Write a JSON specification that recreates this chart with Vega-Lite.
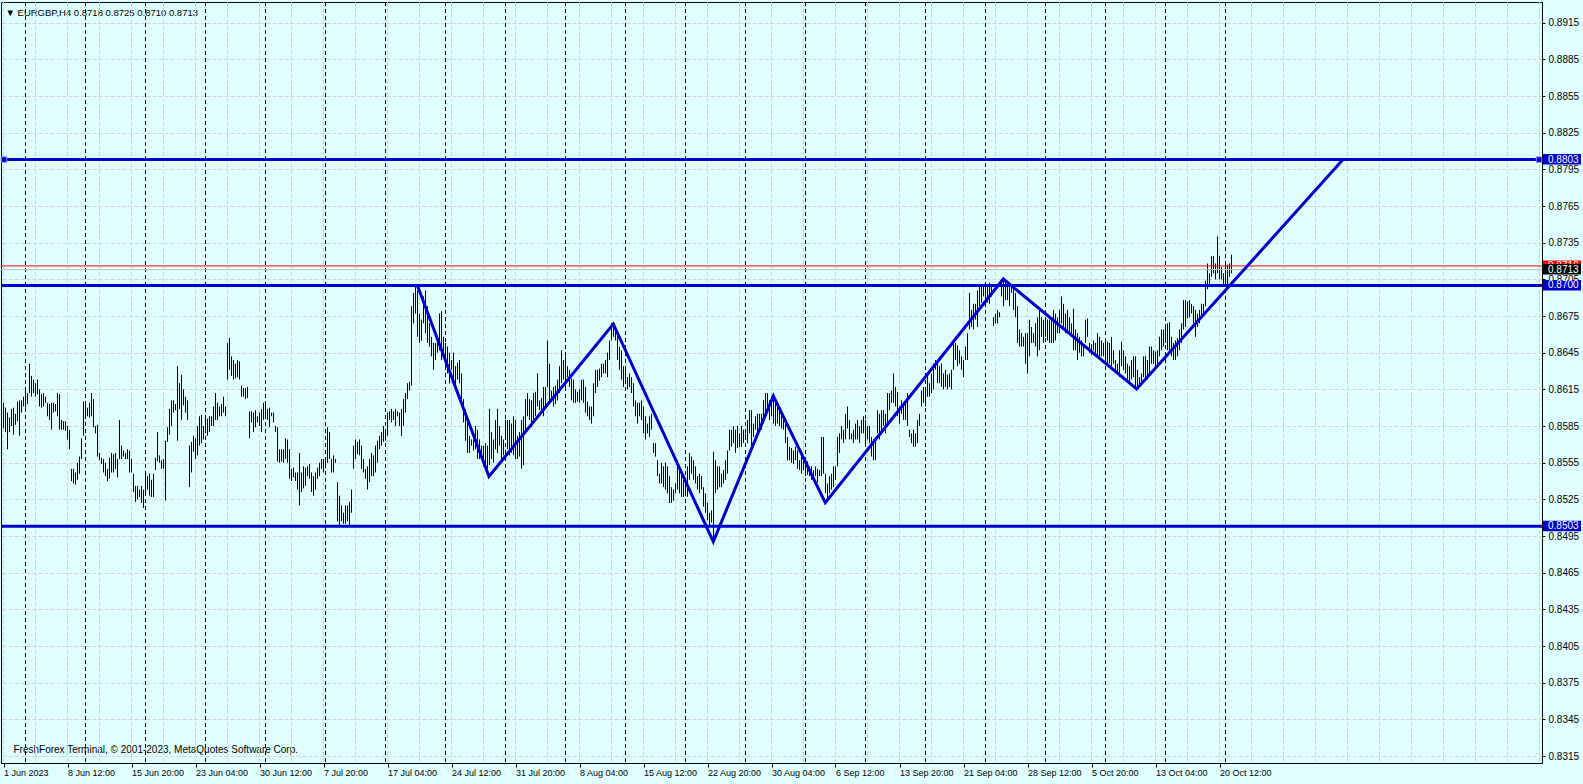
{
  "$schema": "https://vega.github.io/schema/vega-lite/v6.json",
  "autosize": {"type": "none"},
  "padding": {"left": 1, "top": 2, "right": 41, "bottom": 21},
  "width": 1541,
  "height": 761,
  "background": "#E0FFFF",
  "config": {
    "view": {"stroke": "black", "strokeWidth": 1},
    "axis": {"labelFont": "Liberation Sans", "titleFont": "Liberation Sans", "labelOverlap": false}
  },
  "datasets": {
    "vgrid": [
      {"i": 1}, {"i": 17}, {"i": 33}, {"i": 49}, {"i": 65}, {"i": 81}, {"i": 97}, {"i": 113}, {"i": 129}, {"i": 145},
      {"i": 161}, {"i": 177}, {"i": 193}, {"i": 209}, {"i": 225}, {"i": 241}, {"i": 257}, {"i": 273}, {"i": 289}, {"i": 305},
      {"i": 321}, {"i": 337}, {"i": 353}, {"i": 369}, {"i": 385}, {"i": 401}, {"i": 417}, {"i": 433}, {"i": 449}, {"i": 465},
      {"i": 481}, {"i": 497}, {"i": 513}, {"i": 529}, {"i": 545}, {"i": 561}, {"i": 577}, {"i": 593}, {"i": 609}, {"i": 625},
      {"i": 641}, {"i": 657}, {"i": 673}, {"i": 689}, {"i": 705}, {"i": 721}, {"i": 737}, {"i": 753}, {"i": 769}
    ],
    "seps": [
      {"i": 12}, {"i": 42}, {"i": 72}, {"i": 102}, {"i": 132}, {"i": 162}, {"i": 192}, {"i": 222}, {"i": 252}, {"i": 282},
      {"i": 312}, {"i": 342}, {"i": 372}, {"i": 402}, {"i": 432}, {"i": 462}, {"i": 492}, {"i": 522}, {"i": 552}, {"i": 582}, {"i": 612}
    ],
    "zig": [
      {"i": 207.95, "p": 0.8700}, {"i": 243.75, "p": 0.85437}, {"i": 305.9, "p": 0.86685},
      {"i": 355.9, "p": 0.84904}, {"i": 385.9, "p": 0.86096}, {"i": 411.9, "p": 0.85223},
      {"i": 500.9, "p": 0.87053}, {"i": 567.6, "p": 0.86153}, {"i": 670.75, "p": 0.8803}
    ],
    "levels": [{"p": 0.8803}, {"p": 0.8700}, {"p": 0.8503}],
    "ends": [{"i": 1.25, "p": 0.8803}, {"i": 768.75, "p": 0.8803}],
    "boxes": [
      {"p": 0.8803, "k": "level"}, {"p": 0.8700, "k": "level"}, {"p": 0.8503, "k": "level"}, {"p": 0.8716, "k": "alert"}
    ],
    "bid": [{"p": 0.8713, "k": "bid"}],
    "bars": [
      {"i":0,"h":0.8597,"l":0.8584},{"i":1,"h":0.8604,"l":0.8583},{"i":2,"h":0.8600,"l":0.8580},{"i":3,"h":0.8596,"l":0.8566},
      {"i":4,"h":0.8592,"l":0.8580},{"i":5,"h":0.8599,"l":0.8585},{"i":6,"h":0.8600,"l":0.8578},{"i":7,"h":0.8595,"l":0.8586},
      {"i":8,"h":0.8605,"l":0.8589},{"i":9,"h":0.8606,"l":0.8577},{"i":10,"h":0.8606,"l":0.8596},{"i":11,"h":0.8609,"l":0.8601},
      {"i":12,"h":0.8617,"l":0.8600},{"i":13,"h":0.8612,"l":0.8603},{"i":14,"h":0.8636,"l":0.8612},{"i":15,"h":0.8626,"l":0.8609},
      {"i":16,"h":0.8623,"l":0.8612},{"i":17,"h":0.8620,"l":0.8609},{"i":18,"h":0.8623,"l":0.8611},{"i":19,"h":0.8615,"l":0.8601},
      {"i":20,"h":0.8611,"l":0.8600},{"i":21,"h":0.8612,"l":0.8601},{"i":22,"h":0.8609,"l":0.8604},{"i":23,"h":0.8604,"l":0.8593},
      {"i":24,"h":0.8603,"l":0.8590},{"i":25,"h":0.8604,"l":0.8582},{"i":26,"h":0.8604,"l":0.8596},{"i":27,"h":0.8603,"l":0.8597},
      {"i":28,"h":0.8612,"l":0.8593},{"i":29,"h":0.8611,"l":0.8582},{"i":30,"h":0.8590,"l":0.8582},{"i":31,"h":0.8589,"l":0.8582},
      {"i":32,"h":0.8589,"l":0.8581},{"i":33,"h":0.8585,"l":0.8574},{"i":34,"h":0.8582,"l":0.8566},{"i":35,"h":0.8550,"l":0.8540},
      {"i":36,"h":0.8550,"l":0.8538},{"i":37,"h":0.8547,"l":0.8537},{"i":38,"h":0.8555,"l":0.8541},{"i":39,"h":0.8560,"l":0.8546},
      {"i":40,"h":0.8575,"l":0.8558},{"i":41,"h":0.8605,"l":0.8577},{"i":42,"h":0.8603,"l":0.8593},{"i":43,"h":0.8600,"l":0.8593},
      {"i":44,"h":0.8604,"l":0.8592},{"i":45,"h":0.8612,"l":0.8593},{"i":46,"h":0.8607,"l":0.8584},{"i":47,"h":0.8585,"l":0.8579},
      {"i":48,"h":0.8586,"l":0.8560},{"i":49,"h":0.8563,"l":0.8557},{"i":50,"h":0.8559,"l":0.8554},{"i":51,"h":0.8558,"l":0.8547},
      {"i":52,"h":0.8555,"l":0.8544},{"i":53,"h":0.8550,"l":0.8540},{"i":54,"h":0.8559,"l":0.8542},{"i":55,"h":0.8563,"l":0.8547},
      {"i":56,"h":0.8562,"l":0.8547},{"i":57,"h":0.8563,"l":0.8550},{"i":58,"h":0.8558,"l":0.8543},{"i":59,"h":0.8590,"l":0.8558},
      {"i":60,"h":0.8569,"l":0.8558},{"i":61,"h":0.8565,"l":0.8560},{"i":62,"h":0.8563,"l":0.8558},{"i":63,"h":0.8566,"l":0.8558},
      {"i":64,"h":0.8565,"l":0.8547},{"i":65,"h":0.8558,"l":0.8547},{"i":66,"h":0.8546,"l":0.8531},{"i":67,"h":0.8536,"l":0.8523},
      {"i":68,"h":0.8536,"l":0.8525},{"i":69,"h":0.8533,"l":0.8527},{"i":70,"h":0.8536,"l":0.8522},{"i":71,"h":0.8533,"l":0.8518},
      {"i":72,"h":0.8547,"l":0.8531},{"i":73,"h":0.8544,"l":0.8533},{"i":74,"h":0.8546,"l":0.8528},{"i":75,"h":0.8541,"l":0.8527},
      {"i":76,"h":0.8546,"l":0.8527},{"i":77,"h":0.8559,"l":0.8549},{"i":78,"h":0.8580,"l":0.8556},{"i":79,"h":0.8561,"l":0.8555},
      {"i":80,"h":0.8557,"l":0.8550},{"i":81,"h":0.8558,"l":0.8550},{"i":82,"h":0.8573,"l":0.8524},{"i":83,"h":0.8584,"l":0.8572},
      {"i":84,"h":0.8599,"l":0.8578},{"i":85,"h":0.8606,"l":0.8585},{"i":86,"h":0.8606,"l":0.8596},{"i":87,"h":0.8603,"l":0.8598},
      {"i":88,"h":0.8634,"l":0.8573},{"i":89,"h":0.8620,"l":0.8599},{"i":90,"h":0.8627,"l":0.8590},{"i":91,"h":0.8615,"l":0.8602},
      {"i":92,"h":0.8609,"l":0.8596},{"i":93,"h":0.8606,"l":0.8590},{"i":94,"h":0.8569,"l":0.8535},{"i":95,"h":0.8572,"l":0.8547},
      {"i":96,"h":0.8577,"l":0.8564},{"i":97,"h":0.8575,"l":0.8558},{"i":98,"h":0.8585,"l":0.8561},{"i":99,"h":0.8593,"l":0.8569},
      {"i":100,"h":0.8594,"l":0.8571},{"i":101,"h":0.8585,"l":0.8574},{"i":102,"h":0.8593,"l":0.8580},{"i":103,"h":0.8591,"l":0.8577},
      {"i":104,"h":0.8593,"l":0.8580},{"i":105,"h":0.8593,"l":0.8585},{"i":106,"h":0.8601,"l":0.8585},{"i":107,"h":0.8612,"l":0.8590},
      {"i":108,"h":0.8604,"l":0.8590},{"i":109,"h":0.8601,"l":0.8593},{"i":110,"h":0.8603,"l":0.8593},{"i":111,"h":0.8609,"l":0.8596},
      {"i":112,"h":0.8601,"l":0.8593},{"i":113,"h":0.8653,"l":0.8623},{"i":114,"h":0.8657,"l":0.8631},{"i":115,"h":0.8642,"l":0.8626},
      {"i":116,"h":0.8639,"l":0.8623},{"i":117,"h":0.8636,"l":0.8624},{"i":118,"h":0.8639,"l":0.8625},{"i":119,"h":0.8638,"l":0.8623},
      {"i":120,"h":0.8618,"l":0.8609},{"i":121,"h":0.8616,"l":0.8609},{"i":122,"h":0.8616,"l":0.8607},{"i":123,"h":0.8617,"l":0.8608},
      {"i":124,"h":0.8597,"l":0.8575},{"i":125,"h":0.8597,"l":0.8588},{"i":126,"h":0.8596,"l":0.8580},{"i":127,"h":0.8598,"l":0.8584},
      {"i":128,"h":0.8593,"l":0.8588},{"i":129,"h":0.8596,"l":0.8585},{"i":130,"h":0.8599,"l":0.8580},{"i":131,"h":0.8604,"l":0.8590},
      {"i":132,"h":0.8603,"l":0.8593},{"i":133,"h":0.8599,"l":0.8590},{"i":134,"h":0.8600,"l":0.8584},{"i":135,"h":0.8596,"l":0.8593},
      {"i":136,"h":0.8596,"l":0.8588},{"i":137,"h":0.8585,"l":0.8580},{"i":138,"h":0.8584,"l":0.8556},{"i":139,"h":0.8566,"l":0.8555},
      {"i":140,"h":0.8566,"l":0.8556},{"i":141,"h":0.8566,"l":0.8555},{"i":142,"h":0.8575,"l":0.8558},{"i":143,"h":0.8574,"l":0.8555},
      {"i":144,"h":0.8566,"l":0.8542},{"i":145,"h":0.8550,"l":0.8540},{"i":146,"h":0.8551,"l":0.8543},{"i":147,"h":0.8547,"l":0.8540},
      {"i":148,"h":0.8547,"l":0.8533},{"i":149,"h":0.8563,"l":0.8520},{"i":150,"h":0.8547,"l":0.8531},{"i":151,"h":0.8552,"l":0.8534},
      {"i":152,"h":0.8551,"l":0.8536},{"i":153,"h":0.8552,"l":0.8544},{"i":154,"h":0.8554,"l":0.8542},{"i":155,"h":0.8547,"l":0.8531},
      {"i":156,"h":0.8544,"l":0.8528},{"i":157,"h":0.8547,"l":0.8533},{"i":158,"h":0.8551,"l":0.8542},{"i":159,"h":0.8555,"l":0.8544},
      {"i":160,"h":0.8558,"l":0.8550},{"i":161,"h":0.8558,"l":0.8547},{"i":162,"h":0.8558,"l":0.8552},{"i":163,"h":0.8584,"l":0.8555},
      {"i":164,"h":0.8580,"l":0.8558},{"i":165,"h":0.8558,"l":0.8547},{"i":166,"h":0.8561,"l":0.8547},{"i":167,"h":0.8558,"l":0.8555},
      {"i":168,"h":0.8539,"l":0.8507},{"i":169,"h":0.8528,"l":0.8504},{"i":170,"h":0.8520,"l":0.8507},{"i":171,"h":0.8514,"l":0.8505},
      {"i":172,"h":0.8520,"l":0.8505},{"i":173,"h":0.8520,"l":0.8507},{"i":174,"h":0.8523,"l":0.8504},{"i":175,"h":0.8533,"l":0.8514},
      {"i":176,"h":0.8569,"l":0.8550},{"i":177,"h":0.8574,"l":0.8558},{"i":178,"h":0.8572,"l":0.8562},{"i":179,"h":0.8574,"l":0.8561},
      {"i":180,"h":0.8569,"l":0.8550},{"i":181,"h":0.8558,"l":0.8547},{"i":182,"h":0.8550,"l":0.8542},{"i":183,"h":0.8552,"l":0.8533},
      {"i":184,"h":0.8558,"l":0.8539},{"i":185,"h":0.8563,"l":0.8544},{"i":186,"h":0.8561,"l":0.8544},{"i":187,"h":0.8569,"l":0.8547},
      {"i":188,"h":0.8573,"l":0.8555},{"i":189,"h":0.8577,"l":0.8566},{"i":190,"h":0.8580,"l":0.8569},{"i":191,"h":0.8585,"l":0.8572},
      {"i":192,"h":0.8580,"l":0.8573},{"i":193,"h":0.8596,"l":0.8577},{"i":194,"h":0.8597,"l":0.8590},{"i":195,"h":0.8599,"l":0.8588},
      {"i":196,"h":0.8597,"l":0.8590},{"i":197,"h":0.8599,"l":0.8585},{"i":198,"h":0.8597,"l":0.8593},{"i":199,"h":0.8596,"l":0.8585},
      {"i":200,"h":0.8599,"l":0.8577},{"i":201,"h":0.8607,"l":0.8585},{"i":202,"h":0.8612,"l":0.8596},{"i":203,"h":0.8620,"l":0.8607},
      {"i":204,"h":0.8621,"l":0.8614},{"i":205,"h":0.8683,"l":0.8618},{"i":206,"h":0.8694,"l":0.8669},{"i":207,"h":0.8699,"l":0.8677},
      {"i":208,"h":0.8696,"l":0.8658},{"i":209,"h":0.8677,"l":0.8653},{"i":210,"h":0.8672,"l":0.8655},{"i":211,"h":0.8691,"l":0.8669},
      {"i":212,"h":0.8696,"l":0.8661},{"i":213,"h":0.8683,"l":0.8653},{"i":214,"h":0.8669,"l":0.8650},{"i":215,"h":0.8658,"l":0.8642},
      {"i":216,"h":0.8653,"l":0.8631},{"i":217,"h":0.8653,"l":0.8639},{"i":218,"h":0.8656,"l":0.8645},{"i":219,"h":0.8677,"l":0.8647},
      {"i":220,"h":0.8679,"l":0.8639},{"i":221,"h":0.8658,"l":0.8642},{"i":222,"h":0.8653,"l":0.8634},{"i":223,"h":0.8650,"l":0.8628},
      {"i":224,"h":0.8645,"l":0.8620},{"i":225,"h":0.8639,"l":0.8631},{"i":226,"h":0.8645,"l":0.8618},{"i":227,"h":0.8634,"l":0.8618},
      {"i":228,"h":0.8637,"l":0.8623},{"i":229,"h":0.8639,"l":0.8620},{"i":230,"h":0.8628,"l":0.8607},{"i":231,"h":0.8607,"l":0.8588},
      {"i":232,"h":0.8599,"l":0.8573},{"i":233,"h":0.8590,"l":0.8563},{"i":234,"h":0.8577,"l":0.8563},{"i":235,"h":0.8574,"l":0.8569},
      {"i":236,"h":0.8574,"l":0.8565},{"i":237,"h":0.8585,"l":0.8566},{"i":238,"h":0.8582,"l":0.8558},{"i":239,"h":0.8574,"l":0.8558},
      {"i":240,"h":0.8569,"l":0.8558},{"i":241,"h":0.8569,"l":0.8552},{"i":242,"h":0.8571,"l":0.8552},{"i":243,"h":0.8569,"l":0.8550},
      {"i":244,"h":0.8599,"l":0.8553},{"i":245,"h":0.8580,"l":0.8558},{"i":246,"h":0.8574,"l":0.8555},{"i":247,"h":0.8590,"l":0.8566},
      {"i":248,"h":0.8599,"l":0.8563},{"i":249,"h":0.8585,"l":0.8569},{"i":250,"h":0.8577,"l":0.8558},{"i":251,"h":0.8574,"l":0.8561},
      {"i":252,"h":0.8590,"l":0.8575},{"i":253,"h":0.8590,"l":0.8566},{"i":254,"h":0.8590,"l":0.8561},{"i":255,"h":0.8587,"l":0.8563},
      {"i":256,"h":0.8593,"l":0.8561},{"i":257,"h":0.8590,"l":0.8558},{"i":258,"h":0.8577,"l":0.8558},{"i":259,"h":0.8580,"l":0.8560},
      {"i":260,"h":0.8590,"l":0.8550},{"i":261,"h":0.8593,"l":0.8553},{"i":262,"h":0.8607,"l":0.8582},{"i":263,"h":0.8612,"l":0.8593},
      {"i":264,"h":0.8607,"l":0.8590},{"i":265,"h":0.8606,"l":0.8584},{"i":266,"h":0.8612,"l":0.8587},{"i":267,"h":0.8613,"l":0.8593},
      {"i":268,"h":0.8628,"l":0.8601},{"i":269,"h":0.8606,"l":0.8598},{"i":270,"h":0.8608,"l":0.8595},{"i":271,"h":0.8617,"l":0.8593},
      {"i":272,"h":0.8617,"l":0.8601},{"i":273,"h":0.8655,"l":0.8617},{"i":274,"h":0.8636,"l":0.8606},{"i":275,"h":0.8614,"l":0.8606},
      {"i":276,"h":0.8617,"l":0.8601},{"i":277,"h":0.8618,"l":0.8603},{"i":278,"h":0.8623,"l":0.8606},{"i":279,"h":0.8634,"l":0.8612},
      {"i":280,"h":0.8647,"l":0.8620},{"i":281,"h":0.8639,"l":0.8623},{"i":282,"h":0.8642,"l":0.8617},{"i":283,"h":0.8634,"l":0.8625},
      {"i":284,"h":0.8631,"l":0.8617},{"i":285,"h":0.8624,"l":0.8606},{"i":286,"h":0.8623,"l":0.8604},{"i":287,"h":0.8615,"l":0.8604},
      {"i":288,"h":0.8613,"l":0.8605},{"i":289,"h":0.8615,"l":0.8604},{"i":290,"h":0.8623,"l":0.8606},{"i":291,"h":0.8623,"l":0.8604},
      {"i":292,"h":0.8617,"l":0.8596},{"i":293,"h":0.8605,"l":0.8593},{"i":294,"h":0.8601,"l":0.8590},{"i":295,"h":0.8601,"l":0.8587},
      {"i":296,"h":0.8620,"l":0.8593},{"i":297,"h":0.8631,"l":0.8612},{"i":298,"h":0.8631,"l":0.8617},{"i":299,"h":0.8632,"l":0.8622},
      {"i":300,"h":0.8636,"l":0.8625},{"i":301,"h":0.8636,"l":0.8628},{"i":302,"h":0.8639,"l":0.8628},{"i":303,"h":0.8645,"l":0.8625},
      {"i":304,"h":0.8655,"l":0.8639},{"i":305,"h":0.8669,"l":0.8655},{"i":306,"h":0.8666,"l":0.8658},{"i":307,"h":0.8666,"l":0.8655},
      {"i":308,"h":0.8661,"l":0.8639},{"i":309,"h":0.8650,"l":0.8631},{"i":310,"h":0.8647,"l":0.8623},{"i":311,"h":0.8634,"l":0.8617},
      {"i":312,"h":0.8631,"l":0.8623},{"i":313,"h":0.8625,"l":0.8615},{"i":314,"h":0.8628,"l":0.8617},{"i":315,"h":0.8625,"l":0.8612},
      {"i":316,"h":0.8620,"l":0.8601},{"i":317,"h":0.8606,"l":0.8593},{"i":318,"h":0.8604,"l":0.8587},{"i":319,"h":0.8604,"l":0.8593},
      {"i":320,"h":0.8606,"l":0.8590},{"i":321,"h":0.8601,"l":0.8579},{"i":322,"h":0.8593,"l":0.8574},{"i":323,"h":0.8587,"l":0.8579},
      {"i":324,"h":0.8593,"l":0.8576},{"i":325,"h":0.8595,"l":0.8582},{"i":326,"h":0.8571,"l":0.8563},{"i":327,"h":0.8571,"l":0.8560},
      {"i":328,"h":0.8557,"l":0.8544},{"i":329,"h":0.8546,"l":0.8538},{"i":330,"h":0.8555,"l":0.8538},{"i":331,"h":0.8552,"l":0.8535},
      {"i":332,"h":0.8555,"l":0.8533},{"i":333,"h":0.8552,"l":0.8530},{"i":334,"h":0.8544,"l":0.8522},{"i":335,"h":0.8535,"l":0.8522},
      {"i":336,"h":0.8533,"l":0.8524},{"i":337,"h":0.8538,"l":0.8530},{"i":338,"h":0.8557,"l":0.8533},{"i":339,"h":0.8552,"l":0.8530},
      {"i":340,"h":0.8546,"l":0.8527},{"i":341,"h":0.8541,"l":0.8527},{"i":342,"h":0.8541,"l":0.8530},{"i":343,"h":0.8552,"l":0.8527},
      {"i":344,"h":0.8563,"l":0.8541},{"i":345,"h":0.8560,"l":0.8546},{"i":346,"h":0.8557,"l":0.8541},{"i":347,"h":0.8552,"l":0.8538},
      {"i":348,"h":0.8544,"l":0.8533},{"i":349,"h":0.8546,"l":0.8530},{"i":350,"h":0.8544,"l":0.8533},{"i":351,"h":0.8535,"l":0.8519},
      {"i":352,"h":0.8530,"l":0.8514},{"i":353,"h":0.8522,"l":0.8508},{"i":354,"h":0.8514,"l":0.8503},{"i":355,"h":0.8516,"l":0.8506},
      {"i":356,"h":0.8564,"l":0.8490},{"i":357,"h":0.8557,"l":0.8530},{"i":358,"h":0.8552,"l":0.8533},{"i":359,"h":0.8552,"l":0.8535},
      {"i":360,"h":0.8546,"l":0.8535},{"i":361,"h":0.8549,"l":0.8538},{"i":362,"h":0.8557,"l":0.8541},{"i":363,"h":0.8565,"l":0.8546},
      {"i":364,"h":0.8582,"l":0.8565},{"i":365,"h":0.8582,"l":0.8568},{"i":366,"h":0.8585,"l":0.8571},{"i":367,"h":0.8582,"l":0.8563},
      {"i":368,"h":0.8585,"l":0.8567},{"i":369,"h":0.8579,"l":0.8568},{"i":370,"h":0.8585,"l":0.8568},{"i":371,"h":0.8582,"l":0.8571},
      {"i":372,"h":0.8579,"l":0.8574},{"i":373,"h":0.8590,"l":0.8571},{"i":374,"h":0.8598,"l":0.8579},{"i":375,"h":0.8598,"l":0.8568},
      {"i":376,"h":0.8587,"l":0.8576},{"i":377,"h":0.8593,"l":0.8582},{"i":378,"h":0.8595,"l":0.8576},{"i":379,"h":0.8595,"l":0.8585},
      {"i":380,"h":0.8595,"l":0.8582},{"i":381,"h":0.8606,"l":0.8587},{"i":382,"h":0.8612,"l":0.8593},{"i":383,"h":0.8612,"l":0.8598},
      {"i":384,"h":0.8606,"l":0.8590},{"i":385,"h":0.8609,"l":0.8593},{"i":386,"h":0.8612,"l":0.8587},{"i":387,"h":0.8604,"l":0.8585},
      {"i":388,"h":0.8601,"l":0.8587},{"i":389,"h":0.8598,"l":0.8585},{"i":390,"h":0.8597,"l":0.8583},{"i":391,"h":0.8595,"l":0.8582},
      {"i":392,"h":0.8587,"l":0.8571},{"i":393,"h":0.8576,"l":0.8557},{"i":394,"h":0.8568,"l":0.8557},{"i":395,"h":0.8567,"l":0.8555},
      {"i":396,"h":0.8565,"l":0.8554},{"i":397,"h":0.8568,"l":0.8557},{"i":398,"h":0.8565,"l":0.8550},{"i":399,"h":0.8557,"l":0.8549},
      {"i":400,"h":0.8560,"l":0.8546},{"i":401,"h":0.8557,"l":0.8549},{"i":402,"h":0.8557,"l":0.8544},{"i":403,"h":0.8556,"l":0.8545},
      {"i":404,"h":0.8552,"l":0.8544},{"i":405,"h":0.8552,"l":0.8541},{"i":406,"h":0.8549,"l":0.8541},{"i":407,"h":0.8552,"l":0.8544},
      {"i":408,"h":0.8550,"l":0.8539},{"i":409,"h":0.8549,"l":0.8544},{"i":410,"h":0.8576,"l":0.8544},{"i":411,"h":0.8576,"l":0.8546},
      {"i":412,"h":0.8546,"l":0.8530},{"i":413,"h":0.8538,"l":0.8525},{"i":414,"h":0.8544,"l":0.8530},{"i":415,"h":0.8546,"l":0.8533},
      {"i":416,"h":0.8552,"l":0.8535},{"i":417,"h":0.8552,"l":0.8541},{"i":418,"h":0.8576,"l":0.8552},{"i":419,"h":0.8579,"l":0.8563},
      {"i":420,"h":0.8585,"l":0.8574},{"i":421,"h":0.8582,"l":0.8571},{"i":422,"h":0.8595,"l":0.8574},{"i":423,"h":0.8601,"l":0.8583},
      {"i":424,"h":0.8590,"l":0.8574},{"i":425,"h":0.8579,"l":0.8574},{"i":426,"h":0.8582,"l":0.8571},{"i":427,"h":0.8587,"l":0.8574},
      {"i":428,"h":0.8590,"l":0.8574},{"i":429,"h":0.8585,"l":0.8571},{"i":430,"h":0.8590,"l":0.8579},{"i":431,"h":0.8593,"l":0.8579},
      {"i":432,"h":0.8590,"l":0.8568},{"i":433,"h":0.8585,"l":0.8574},{"i":434,"h":0.8585,"l":0.8571},{"i":435,"h":0.8576,"l":0.8560},
      {"i":436,"h":0.8574,"l":0.8557},{"i":437,"h":0.8576,"l":0.8557},{"i":438,"h":0.8598,"l":0.8579},{"i":439,"h":0.8595,"l":0.8574},
      {"i":440,"h":0.8598,"l":0.8582},{"i":441,"h":0.8598,"l":0.8585},{"i":442,"h":0.8595,"l":0.8579},{"i":443,"h":0.8612,"l":0.8587},
      {"i":444,"h":0.8612,"l":0.8598},{"i":445,"h":0.8614,"l":0.8604},{"i":446,"h":0.8628,"l":0.8604},{"i":447,"h":0.8617,"l":0.8601},
      {"i":448,"h":0.8613,"l":0.8593},{"i":449,"h":0.8601,"l":0.8587},{"i":450,"h":0.8606,"l":0.8595},{"i":451,"h":0.8604,"l":0.8590},
      {"i":452,"h":0.8604,"l":0.8590},{"i":453,"h":0.8612,"l":0.8585},{"i":454,"h":0.8582,"l":0.8576},{"i":455,"h":0.8579,"l":0.8571},
      {"i":456,"h":0.8582,"l":0.8568},{"i":457,"h":0.8579,"l":0.8568},{"i":458,"h":0.8590,"l":0.8571},{"i":459,"h":0.8595,"l":0.8585},
      {"i":460,"h":0.8614,"l":0.8601},{"i":461,"h":0.8617,"l":0.8604},{"i":462,"h":0.8614,"l":0.8601},{"i":463,"h":0.8628,"l":0.8609},
      {"i":464,"h":0.8620,"l":0.8609},{"i":465,"h":0.8628,"l":0.8612},{"i":466,"h":0.8636,"l":0.8615},{"i":467,"h":0.8639,"l":0.8631},
      {"i":468,"h":0.8636,"l":0.8620},{"i":469,"h":0.8634,"l":0.8620},{"i":470,"h":0.8636,"l":0.8617},{"i":471,"h":0.8628,"l":0.8615},
      {"i":472,"h":0.8631,"l":0.8617},{"i":473,"h":0.8627,"l":0.8615},{"i":474,"h":0.8628,"l":0.8617},{"i":475,"h":0.8631,"l":0.8615},
      {"i":476,"h":0.8655,"l":0.8631},{"i":477,"h":0.8653,"l":0.8639},{"i":478,"h":0.8651,"l":0.8634},{"i":479,"h":0.8647,"l":0.8636},
      {"i":480,"h":0.8642,"l":0.8631},{"i":481,"h":0.8639,"l":0.8625},{"i":482,"h":0.8650,"l":0.8639},{"i":483,"h":0.8661,"l":0.8639},
      {"i":484,"h":0.8694,"l":0.8664},{"i":485,"h":0.8680,"l":0.8666},{"i":486,"h":0.8685,"l":0.8664},{"i":487,"h":0.8685,"l":0.8672},
      {"i":488,"h":0.8696,"l":0.8666},{"i":489,"h":0.8699,"l":0.8683},{"i":490,"h":0.8699,"l":0.8686},{"i":491,"h":0.8699,"l":0.8691},
      {"i":492,"h":0.8699,"l":0.8691},{"i":493,"h":0.8701,"l":0.8686},{"i":494,"h":0.8702,"l":0.8685},{"i":495,"h":0.8700,"l":0.8691},
      {"i":496,"h":0.8674,"l":0.8667},{"i":497,"h":0.8677,"l":0.8669},{"i":498,"h":0.8680,"l":0.8669},{"i":499,"h":0.8678,"l":0.8674},
      {"i":500,"h":0.8702,"l":0.8691},{"i":501,"h":0.8706,"l":0.8683},{"i":502,"h":0.8704,"l":0.8688},{"i":503,"h":0.8702,"l":0.8688},
      {"i":504,"h":0.8699,"l":0.8683},{"i":505,"h":0.8699,"l":0.8694},{"i":506,"h":0.8699,"l":0.8680},{"i":507,"h":0.8694,"l":0.8674},
      {"i":508,"h":0.8683,"l":0.8653},{"i":509,"h":0.8664,"l":0.8650},{"i":510,"h":0.8661,"l":0.8650},{"i":511,"h":0.8658,"l":0.8650},
      {"i":512,"h":0.8661,"l":0.8636},{"i":513,"h":0.8661,"l":0.8628},{"i":514,"h":0.8672,"l":0.8642},{"i":515,"h":0.8666,"l":0.8653},
      {"i":516,"h":0.8661,"l":0.8653},{"i":517,"h":0.8669,"l":0.8650},{"i":518,"h":0.8674,"l":0.8642},{"i":519,"h":0.8680,"l":0.8647},
      {"i":520,"h":0.8674,"l":0.8658},{"i":521,"h":0.8672,"l":0.8653},{"i":522,"h":0.8672,"l":0.8658},{"i":523,"h":0.8672,"l":0.8655},
      {"i":524,"h":0.8672,"l":0.8653},{"i":525,"h":0.8674,"l":0.8653},{"i":526,"h":0.8680,"l":0.8653},{"i":527,"h":0.8677,"l":0.8655},
      {"i":528,"h":0.8674,"l":0.8661},{"i":529,"h":0.8680,"l":0.8661},{"i":530,"h":0.8691,"l":0.8669},{"i":531,"h":0.8685,"l":0.8666},
      {"i":532,"h":0.8677,"l":0.8661},{"i":533,"h":0.8680,"l":0.8661},{"i":534,"h":0.8674,"l":0.8661},{"i":535,"h":0.8669,"l":0.8658},
      {"i":536,"h":0.8681,"l":0.8647},{"i":537,"h":0.8664,"l":0.8647},{"i":538,"h":0.8661,"l":0.8639},{"i":539,"h":0.8658,"l":0.8645},
      {"i":540,"h":0.8655,"l":0.8642},{"i":541,"h":0.8650,"l":0.8642},{"i":542,"h":0.8672,"l":0.8653},{"i":543,"h":0.8673,"l":0.8658},
      {"i":544,"h":0.8653,"l":0.8645},{"i":545,"h":0.8652,"l":0.8643},{"i":546,"h":0.8655,"l":0.8647},{"i":547,"h":0.8653,"l":0.8645},
      {"i":548,"h":0.8661,"l":0.8642},{"i":549,"h":0.8658,"l":0.8639},{"i":550,"h":0.8655,"l":0.8642},{"i":551,"h":0.8653,"l":0.8642},
      {"i":552,"h":0.8655,"l":0.8636},{"i":553,"h":0.8654,"l":0.8635},{"i":554,"h":0.8653,"l":0.8636},{"i":555,"h":0.8658,"l":0.8634},
      {"i":556,"h":0.8647,"l":0.8636},{"i":557,"h":0.8639,"l":0.8631},{"i":558,"h":0.8636,"l":0.8629},{"i":559,"h":0.8647,"l":0.8625},
      {"i":560,"h":0.8654,"l":0.8634},{"i":561,"h":0.8647,"l":0.8631},{"i":562,"h":0.8642,"l":0.8628},{"i":563,"h":0.8636,"l":0.8623},
      {"i":564,"h":0.8634,"l":0.8620},{"i":565,"h":0.8639,"l":0.8623},{"i":566,"h":0.8642,"l":0.8625},{"i":567,"h":0.8642,"l":0.8617},
      {"i":568,"h":0.8631,"l":0.8616},{"i":569,"h":0.8625,"l":0.8617},{"i":570,"h":0.8628,"l":0.8620},{"i":571,"h":0.8642,"l":0.8625},
      {"i":572,"h":0.8642,"l":0.8623},{"i":573,"h":0.8639,"l":0.8623},{"i":574,"h":0.8650,"l":0.8628},{"i":575,"h":0.8650,"l":0.8636},
      {"i":576,"h":0.8647,"l":0.8636},{"i":577,"h":0.8646,"l":0.8634},{"i":578,"h":0.8647,"l":0.8634},{"i":579,"h":0.8658,"l":0.8642},
      {"i":580,"h":0.8664,"l":0.8647},{"i":581,"h":0.8664,"l":0.8650},{"i":582,"h":0.8666,"l":0.8653},{"i":583,"h":0.8669,"l":0.8647},
      {"i":584,"h":0.8670,"l":0.8647},{"i":585,"h":0.8658,"l":0.8642},{"i":586,"h":0.8653,"l":0.8639},{"i":587,"h":0.8655,"l":0.8639},
      {"i":588,"h":0.8657,"l":0.8642},{"i":589,"h":0.8664,"l":0.8647},{"i":590,"h":0.8669,"l":0.8653},{"i":591,"h":0.8688,"l":0.8664},
      {"i":592,"h":0.8688,"l":0.8666},{"i":593,"h":0.8687,"l":0.8673},{"i":594,"h":0.8688,"l":0.8674},{"i":595,"h":0.8685,"l":0.8677},
      {"i":596,"h":0.8683,"l":0.8669},{"i":597,"h":0.8680,"l":0.8658},{"i":598,"h":0.8677,"l":0.8666},{"i":599,"h":0.8680,"l":0.8669},
      {"i":600,"h":0.8685,"l":0.8674},{"i":601,"h":0.8685,"l":0.8677},{"i":602,"h":0.8704,"l":0.8683},{"i":603,"h":0.8718,"l":0.8697},
      {"i":604,"h":0.8710,"l":0.8699},{"i":605,"h":0.8724,"l":0.8707},{"i":606,"h":0.8724,"l":0.8710},{"i":607,"h":0.8718,"l":0.8705},
      {"i":608,"h":0.8740,"l":0.8710},{"i":609,"h":0.8724,"l":0.8705},{"i":610,"h":0.8715,"l":0.8705},{"i":611,"h":0.8710,"l":0.8699},
      {"i":612,"h":0.8718,"l":0.8702},{"i":613,"h":0.8717,"l":0.8699},{"i":614,"h":0.8718,"l":0.8707},{"i":615,"h":0.8725,"l":0.8710}
    ]
  },
  "layer": [
    {
      "data": {"name": "vgrid"},
      "mark": {"type": "rule", "color": "#dad2d2", "strokeWidth": 1, "strokeDash": [4, 2]},
      "encoding": {
        "x": {
          "field": "i",
          "type": "quantitative",
          "scale": {"domain": [-0.25, 770.25], "nice": false, "zero": false},
          "axis": {
            "orient": "bottom",
            "values": [1, 33, 65, 97, 129, 161, 193, 225, 257, 289, 321, 353, 385, 417, 449, 481, 513, 545, 577, 609],
            "tickCount": 60,
            "labelExpr": "['1 Jun 2023','8 Jun 12:00','15 Jun 20:00','23 Jun 04:00','30 Jun 12:00','7 Jul 20:00','17 Jul 04:00','24 Jul 12:00','31 Jul 20:00','8 Aug 04:00','15 Aug 12:00','22 Aug 20:00','30 Aug 04:00','6 Sep 12:00','13 Sep 20:00','21 Sep 04:00','28 Sep 12:00','5 Oct 20:00','13 Oct 04:00','20 Oct 12:00'][(datum.value - 1) / 32]",
            "labelAlign": "left",
            "labelBaseline": "top",
            "labelFlush": false,
            "labelOverlap": false,
            "labelFontSize": 9,
            "labelColor": "black",
            "labelPadding": 1,
            "tickSize": 4,
            "tickColor": "black",
            "domainColor": "black",
            "grid": false,
            "title": "FreshForex Terminal, © 2001-2023, MetaQuotes Software Corp.",
            "titleX": 12,
            "titleY": -14,
            "titleAlign": "left",
            "titleAnchor": "start",
            "titleBaseline": "middle",
            "titleFontSize": 10,
            "titleFontWeight": "normal",
            "titleColor": "black"
          }
        }
      }
    },
    {
      "data": {"name": "seps"},
      "mark": {"type": "rule", "color": "black", "strokeWidth": 1, "strokeDash": [4, 3]},
      "encoding": {"x": {"field": "i", "type": "quantitative"}}
    },
    {
      "data": {"name": "bars"},
      "mark": {"type": "rule", "color": "black", "strokeWidth": 1},
      "encoding": {
        "x": {"field": "i", "type": "quantitative"},
        "y": {
          "field": "l",
          "type": "quantitative",
          "scale": {"domain": [0.830929, 0.893194], "nice": false, "zero": false},
          "axis": {
            "orient": "right",
            "values": [0.8315, 0.8345, 0.8375, 0.8405, 0.8435, 0.8465, 0.8495, 0.8525, 0.8555, 0.8585, 0.8615, 0.8645, 0.8675, 0.8705, 0.8735, 0.8765, 0.8795, 0.8825, 0.8855, 0.8885, 0.8915],
            "tickCount": 60,
            "format": ".4f",
            "labelOverlap": false,
            "labelFontSize": 10,
            "labelColor": "black",
            "labelPadding": 3,
            "tickSize": 3,
            "tickColor": "black",
            "domainColor": "black",
            "grid": true,
            "gridColor": "#dad2d2",
            "gridDash": [4, 2],
            "title": "▼ EURGBP,H4  0.8718 0.8725 0.8710 0.8713",
            "titleAngle": 0,
            "titleX": -1537,
            "titleY": 13,
            "titleAlign": "left",
            "titleBaseline": "alphabetic",
            "titleFontSize": 9.5,
            "titleFontWeight": "normal",
            "titleColor": "black"
          }
        },
        "y2": {"field": "h"}
      }
    },
    {
      "data": {"values": [{"p": 0.8716}]},
      "mark": {"type": "rule", "color": "#FF0000", "strokeWidth": 1},
      "encoding": {"y": {"field": "p", "type": "quantitative"}}
    },
    {
      "data": {"name": "bid"},
      "mark": {"type": "rule", "color": "#C0C0C0", "strokeWidth": 1},
      "encoding": {"y": {"field": "p", "type": "quantitative"}}
    },
    {
      "data": {"name": "levels"},
      "mark": {"type": "rule", "color": "#0000CD", "strokeWidth": 3},
      "encoding": {"y": {"field": "p", "type": "quantitative"}}
    },
    {
      "data": {"name": "zig"},
      "mark": {"type": "line", "color": "#0000CD", "strokeWidth": 3},
      "encoding": {
        "x": {"field": "i", "type": "quantitative"},
        "y": {"field": "p", "type": "quantitative"}
      }
    },
    {
      "data": {"name": "ends"},
      "mark": {"type": "point", "shape": "square", "filled": true, "size": 30, "color": "#0000CD", "stroke": "#8888ff", "strokeWidth": 1, "opacity": 1},
      "encoding": {
        "x": {"field": "i", "type": "quantitative"},
        "y": {"field": "p", "type": "quantitative"}
      }
    },
    {
      "data": {"name": "boxes"},
      "mark": {"type": "rect", "xOffset": 1, "x2Offset": 39, "yOffset": -5.5, "y2Offset": 5},
      "encoding": {
        "x": {"value": "width"},
        "x2": {"value": "width"},
        "y": {"field": "p", "type": "quantitative"},
        "y2": {"field": "p"},
        "color": {"field": "k", "type": "nominal", "scale": {"domain": ["level", "alert", "bid"], "range": ["#0000CD", "#FF0000", "#000000"]}, "legend": null}
      }
    },
    {
      "data": {"name": "boxes"},
      "mark": {"type": "text", "align": "left", "baseline": "middle", "dx": 6, "color": "white", "font": "Liberation Sans", "fontSize": 10},
      "encoding": {
        "x": {"value": "width"},
        "y": {"field": "p", "type": "quantitative"},
        "text": {"field": "p", "type": "quantitative", "format": ".4f"}
      }
    },
    {
      "data": {"name": "bid"},
      "mark": {"type": "rect", "xOffset": 1, "x2Offset": 39, "yOffset": -5.5, "y2Offset": 5},
      "encoding": {
        "x": {"value": "width"},
        "x2": {"value": "width"},
        "y": {"field": "p", "type": "quantitative"},
        "y2": {"field": "p"},
        "color": {"field": "k", "type": "nominal", "legend": null}
      }
    },
    {
      "data": {"name": "bid"},
      "mark": {"type": "text", "align": "left", "baseline": "middle", "dx": 6, "color": "white", "font": "Liberation Sans", "fontSize": 10},
      "encoding": {
        "x": {"value": "width"},
        "y": {"field": "p", "type": "quantitative"},
        "text": {"field": "p", "type": "quantitative", "format": ".4f"}
      }
    }
  ]
}
